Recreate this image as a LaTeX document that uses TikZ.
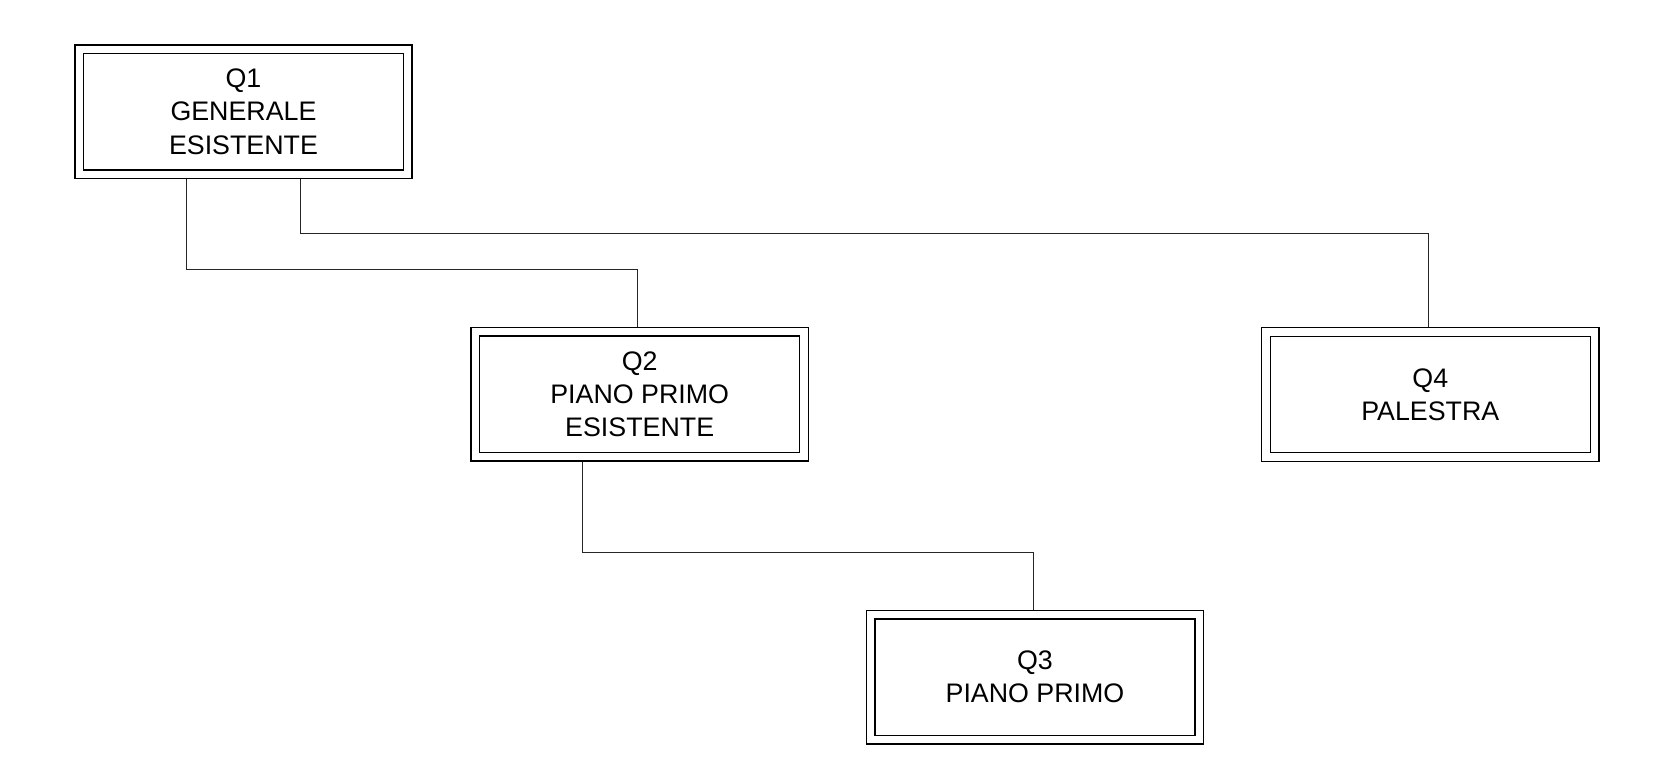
\documentclass[tikz,border=0pt]{standalone}
\usepackage{fontspec}
\setmainfont{Liberation Sans}
\begin{document}
\begin{tikzpicture}[x=1pt,y=-1pt,
  qbox/.style={draw=black, line width=1.4pt, double=white, double distance=7.2pt,
    minimum width=328.5pt, minimum height=125pt, inner sep=0pt, outer sep=5pt,
    align=center, font=\fontsize{26.8}{33.3}\selectfont},
  conn/.style={draw=black!85, line width=0.9pt}]
\useasboundingbox (0,0) rectangle (1663,764);
\node[qbox] (Q1) at (243.5,111.6) {Q1\\GENERALE\\ESISTENTE};
\node[qbox] (Q2) at (639.7,394.2) {Q2\\PIANO PRIMO\\ESISTENTE};
\node[qbox] (Q4) at (1430.3,394.5) {Q4\\PALESTRA};
\node[qbox] (Q3) at (1035,677) {Q3\\PIANO PRIMO};
\coordinate (j1) at (637.7,269);
\coordinate (j2) at (1428.7,233);
\coordinate (j3) at (1033,552);
\draw[conn] ([xshift=-57pt]Q1.south) |- (j1) -- (j1 |- Q2.north);
\draw[conn] ([xshift=57pt]Q1.south) |- (j2) -- (j2 |- Q4.north);
\draw[conn] ([xshift=-57.2pt]Q2.south) |- (j3) -- (j3 |- Q3.north);
\end{tikzpicture}
\end{document}
